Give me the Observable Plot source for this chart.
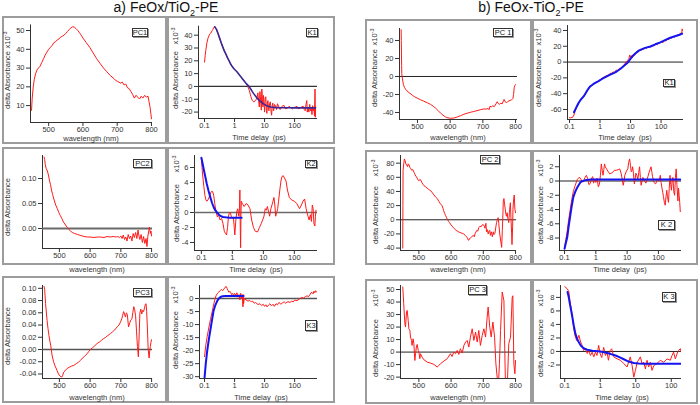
<!DOCTYPE html>
<html><head><meta charset="utf-8">
<script src="https://cdn.jsdelivr.net/npm/d3@7"></script>
<script src="https://cdn.jsdelivr.net/npm/@observablehq/plot@0.6"></script>
<style>
html,body{margin:0;padding:0;background:#fff;}
#fig{position:relative;width:700px;height:405px;overflow:hidden;font-family:"Liberation Sans",Arial,sans-serif;color:#222;}
.frame{position:absolute;box-sizing:border-box;border:2px solid #9c9c9c;pointer-events:none;}
.tag{position:absolute;box-sizing:border-box;border:1px solid #333;font-size:7.5px;line-height:1;display:flex;align-items:center;justify-content:center;background:#fff;box-shadow:1px 1px 0 #999;color:#222;}
.ylab{position:absolute;font-size:7.5px;white-space:nowrap;transform:translate(-50%,-50%) rotate(-90deg);color:#333;}
.ylab sup{font-size:5.5px;}
.xlab{position:absolute;font-size:7.5px;line-height:1;white-space:nowrap;transform:translate(-50%,-50%);color:#333;}
.title{position:absolute;font-size:14px;line-height:1.1;white-space:nowrap;transform:translate(-50%,0);color:#111;}
.title sub{font-size:9px;}
svg{position:absolute;}
</style></head><body><div id="fig"></div>
<script>
// ---------------- data (x, value) ----------------
// a) FeOx/TiO2-PE
const aPC1 = [[450,7.5],[452,14],[455,20],[458,24],[462,27],[466,29],[470,30],[475,31],[480,33],[485,35],[490,37],[495,38.5],[500,40],[505,41],[510,42],[515,43.5],[520,44],[525,45],[530,45.5],[535,46.5],[540,47],[545,47.5],[550,48.5],[555,49.5],[560,50.5],[565,51.5],[570,52],[575,51.8],[580,51],[585,50],[590,48.8],[595,47.5],[600,46],[610,43.5],[620,41],[630,38],[640,35],[650,32.5],[660,30],[670,28],[680,26],[690,24.5],[695,23.5],[700,23],[705,22.5],[710,22],[715,22.5],[720,21],[725,21.5],[730,19.5],[735,19],[740,17.5],[745,16],[750,14],[755,15.5],[760,14.5],[765,13.5],[770,15],[775,14],[780,15.5],[785,14.5],[790,15],[793,12],[796,9],[798,6],[800,3]];
const aK1 = [[0.1,19],[0.105,24],[0.11,28],[0.12,34],[0.13,37.5],[0.14,39.5],[0.15,41],[0.16,41.5],[0.17,42.5],[0.18,43.5],[0.19,44.5],[0.2,45.5],[0.21,46.5],[0.22,47],[0.23,46],[0.25,44.5],[0.28,41.5],[0.32,37.5],[0.36,34],[0.41,30.5],[0.46,27.5],[0.52,25],[0.58,22.5],[0.66,20],[0.74,17.5],[0.84,15.5],[0.94,14],[1.05,12.8],[1.2,11.5],[1.35,10],[1.5,8.5],[1.7,7],[1.9,5.5],[2.1,4.2],[2.4,2.5],[2.7,0.5],[3.1,-3],[3.5,-8],[3.9,-11],[4.4,-12],[5,-11],[5.6,-9],[6,-5],[6.4,-12],[6.7,-16],[7,-4],[7.3,-9],[7.8,-18.5],[8.1,-2],[8.5,-10],[8.8,-16],[9.2,-7],[9.6,-13],[10,-20],[10.5,-9],[11,-8],[11.5,-19],[12,-21],[12.5,-12],[13,-11],[13.5,-18],[14,-19],[14.8,-13],[15.6,-12],[16.5,-20],[17.2,-22.5],[18,-15],[18.8,-13],[20,-19],[21.5,-14],[23,-15],[25,-18],[27,-13.5],[30,-16],[33,-18],[36,-16.5],[40,-15],[45,-15],[50,-17.5],[58,-17],[65,-15.5],[74,-16.5],[85,-17.5],[94,-16.5],[110,-16],[120,-15.5],[135,-17.5],[150,-17],[170,-16],[195,-15.5],[210,-18],[225,-19],[240,-14],[255,-11],[265,-20],[280,-16],[300,-20],[320,-14],[340,-19],[360,-17],[380,-22],[400,-15],[420,-19],[440,-17],[460,-23],[470,-12],[480,-2],[490,-24],[500,-16]];
const aK1fit = [[0.22,46.5],[0.25,44.5],[0.28,41.5],[0.32,37.5],[0.36,34],[0.41,30.5],[0.46,27.5],[0.52,25],[0.58,22.5],[0.66,20],[0.74,17.5],[0.84,15.5],[0.94,14],[1.05,12.8],[1.2,11.5],[1.35,10],[1.5,8.5],[1.7,7],[1.9,5.5],[2.1,4.2],[2.4,2.5],[2.7,1.2],[3.1,-0.3],[3.5,-2.2],[3.9,-4],[4.4,-5.8],[5,-7.5],[5.6,-9],[6.3,-10.3],[7.1,-11.5],[8,-12.5],[9.5,-13.8],[11,-14.6],[13,-15.4],[16,-16],[20,-16.3],[27,-16.5],[40,-16.6],[60,-16.6],[100,-16.7],[200,-16.7],[500,-16.7]];
const aPC2 = [[450,0.143],[452,0.138],[454,0.128],[457,0.12],[461,0.115],[465,0.105],[468,0.095],[471,0.088],[475,0.075],[478,0.068],[480,0.063],[484,0.055],[488,0.047],[493,0.04],[498,0.032],[503,0.026],[508,0.02],[513,0.013],[518,0.009],[522,0.005],[526,0.002],[531,-0.002],[536,-0.005],[542,-0.008],[550,-0.01],[559,-0.012],[570,-0.014],[580,-0.016],[591,-0.017],[600,-0.017],[612,-0.018],[625,-0.017],[633,-0.017],[645,-0.018],[655,-0.016],[665,-0.017],[675,-0.016],[685,-0.017],[690,-0.016],[695,-0.018],[700,-0.015],[704,-0.02],[708,-0.013],[712,-0.022],[716,-0.017],[720,-0.025],[724,-0.012],[728,-0.02],[732,-0.015],[736,-0.025],[740,-0.01],[744,-0.018],[748,-0.008],[752,-0.02],[756,-0.003],[759,-0.015],[762,-0.022],[766,-0.012],[770,-0.028],[774,-0.016],[778,-0.03],[782,-0.02],[785,-0.036],[788,-0.015],[791,-0.004],[793,0.003],[796,-0.01],[798,-0.005],[800,-0.015]];
const aK2 = [[0.1,7.2],[0.105,6],[0.11,5],[0.12,3.5],[0.13,2.3],[0.14,1.7],[0.15,1.5],[0.17,1.8],[0.19,2.4],[0.21,2.8],[0.23,2.8],[0.25,2.3],[0.27,1.2],[0.3,0],[0.33,-0.6],[0.36,-0.3],[0.4,-1],[0.45,-0.8],[0.5,-1.5],[0.55,-2.5],[0.6,-2.8],[0.65,-3],[0.7,-2],[0.75,-0.5],[0.8,0],[0.86,0],[0.92,-0.5],[1,-0.8],[1.08,-0.6],[1.15,-2],[1.2,-3],[1.3,-1],[1.4,0.2],[1.5,0.5],[1.6,-0.5],[1.7,0.5],[1.75,3],[1.8,-2],[1.85,-4.7],[1.9,0],[1.95,1.5],[2.1,1.2],[2.4,0.8],[2.8,1.2],[3.2,1],[3.7,0.5],[4.2,-1],[4.8,-2],[5.5,-2.5],[6.5,-2.6],[7.5,-2],[8.5,-1.5],[9.5,-1],[10.5,-0.5],[11.5,0.5],[12.5,0.3],[13.5,0.8],[15,0],[16,-0.5],[17.5,0.5],[19,1],[20.5,1.5],[22,2],[23.5,1],[25,-0.5],[27,0],[29,0.5],[31,1.5],[34,3],[37,4.2],[40,4.8],[44,4.9],[48,4.6],[54,4.2],[60,3],[69,2],[80,1.7],[100,1.5],[120,1.2],[147,0.5],[170,1],[190,1.5],[215,1.8],[240,0.5],[277,-0.5],[300,-1],[330,-0.3],[357,-1.2],[380,1],[405,0.5],[430,-1.5],[460,-1.8],[480,-0.5],[500,0.3]];
const aK2fit = [[0.1,7.3],[0.11,6.5],[0.12,5.7],[0.135,4.7],[0.15,3.8],[0.17,2.9],[0.196,2],[0.22,1.3],[0.25,0.7],[0.28,0.3],[0.32,0],[0.37,-0.3],[0.43,-0.5],[0.5,-0.6],[0.6,-0.65],[0.8,-0.7],[1.2,-0.7],[2,-0.7]];
const aPC3 = [[450,0.103],[452,0.098],[455,0.075],[458,0.058],[460,0.047],[463,0.034],[466,0.023],[469,0.014],[472,0.006],[476,-0.009],[481,-0.02],[486,-0.027],[492,-0.034],[497,-0.04],[503,-0.044],[508,-0.045],[511,-0.042],[514,-0.037],[518,-0.035],[525,-0.031],[532,-0.029],[540,-0.027],[547,-0.026],[555,-0.023],[562,-0.021],[568,-0.018],[575,-0.014],[582,-0.011],[590,-0.007],[596,-0.003],[601,0],[608,0.003],[615,0.006],[623,0.01],[630,0.012],[637,0.015],[644,0.018],[651,0.02],[658,0.023],[666,0.026],[673,0.029],[680,0.032],[688,0.037],[694,0.04],[699,0.045],[703,0.05],[706,0.056],[709,0.062],[712,0.058],[715,0.053],[718,0.06],[721,0.057],[725,0.037],[728,0.042],[732,0.048],[736,0.05],[739,0.06],[742,0.07],[745,0.065],[748,0.055],[751,0.03],[754,0.005],[757,-0.012],[760,0.03],[762,0.06],[765,0.066],[768,0.058],[771,0.064],[774,0.062],[777,0.068],[780,0.074],[782,0.075],[784,0.062],[786,0.04],[789,0],[792,-0.014],[794,-0.002],[796,0.005],[798,0.012],[800,0.016]];
const aK3 = [[0.1,-22.3],[0.11,-18],[0.123,-14.5],[0.14,-11],[0.158,-8],[0.18,-5],[0.2,-2.5],[0.22,-0.5],[0.24,1],[0.27,2],[0.3,2.5],[0.33,3],[0.36,3.5],[0.4,3],[0.44,3.6],[0.48,4.3],[0.53,4.6],[0.57,3.8],[0.6,3.2],[0.65,2.4],[0.7,2.8],[0.75,2.2],[0.8,1.5],[0.86,2],[0.93,1.2],[1,2],[1.1,1.3],[1.2,2.2],[1.3,0.5],[1.4,1.5],[1.5,-0.5],[1.6,2],[1.7,0],[1.8,1.5],[1.9,-3.2],[1.95,1.5],[2,-2],[2.1,0],[2.4,-0.5],[2.8,-1],[3.2,-0.7],[3.6,-1.3],[4,-1],[4.5,-1.8],[5,-1.5],[6,-2.3],[7,-2],[8,-2.7],[9,-2.2],[10,-3],[11,-2.4],[12,-3.2],[13.5,-2.5],[15,-2],[17,-2.8],[19,-2.2],[21,-3],[24,-2],[27,-2.4],[30,-1.5],[35,-2.2],[40,-1.6],[45,-1.3],[50,-1.8],[60,-1.2],[70,-1.5],[80,-1],[90,-1.3],[100,-0.6],[120,-0.8],[140,-0.3],[170,0.4],[200,0.2],[230,0.8],[260,1],[290,0.7],[320,1.4],[350,2.2],[380,2.3],[410,1.8],[440,2.8],[470,2.2],[500,3],[530,2.5]];
const aK3fit = [[0.1,-30.5],[0.11,-25],[0.123,-20],[0.14,-15.5],[0.158,-11.8],[0.18,-7.8],[0.2,-4.7],[0.23,-2.5],[0.265,-0.9],[0.3,0],[0.34,0.6],[0.4,0.9],[0.5,1],[1,1],[2,1]];
// b) FeOx-TiO2-PE
const bPC1 = [[450,52],[450.5,40],[451,25],[451.5,12],[452,3],[453,0],[455,-5],[457,-9],[460,-12],[464,-14.5],[468,-16],[474,-18],[480,-19.5],[484,-20.7],[490,-22.3],[499,-24],[509,-25.8],[519,-27.4],[530,-29.2],[540,-31],[548,-33],[555,-35],[562,-37.5],[570,-40.5],[578,-43],[586,-45],[593,-46],[601,-46.4],[611,-46.2],[622,-45],[632,-43.5],[642,-42],[652,-40.8],[662,-39.8],[672,-38.9],[682,-38],[692,-37],[703,-36],[710,-36.3],[716,-35.5],[719,-37],[722,-33],[726,-34],[730,-32.5],[735,-33.5],[740,-30.5],[744,-28],[747,-30],[751,-31],[755,-29.5],[759,-30.5],[763,-27],[765,-25.5],[768,-28],[772,-29],[776,-28],[780,-27],[784,-26.5],[788,-26],[792,-24.5],[794,-20],[796,-12],[798,-10],[800,-9]];
const bK1 = [[0.1,-70.5],[0.11,-70.5],[0.12,-70],[0.13,-69.5],[0.14,-67],[0.15,-63],[0.17,-57],[0.19,-53],[0.21,-50],[0.24,-47],[0.27,-45],[0.3,-43],[0.34,-39],[0.38,-36.5],[0.42,-33.5],[0.47,-31],[0.53,-30],[0.6,-28],[0.67,-27],[0.75,-26],[0.85,-24.5],[0.95,-23],[1.07,-22],[1.2,-20],[1.35,-19],[1.5,-18],[1.7,-17],[1.9,-16.5],[2.1,-14.5],[2.4,-14],[2.7,-12.5],[3,-13],[3.4,-10],[3.8,-11],[4.3,-8],[4.8,-8.5],[5.4,-6],[6,-4],[6.7,-1.5],[7.3,1],[7.8,-2],[8.3,3],[8.8,4],[9.4,9],[10,6],[10.7,8],[11.5,5.5],[12.3,9],[13,8],[14,10],[15,11],[16,12.5],[17.5,12],[19,15.5],[20,14],[21.5,16],[23,15],[25,17.5],[27,16],[30,18.5],[33,17],[36,18.5],[40,19.5],[45,19],[50,21.5],[55,20.5],[60,21],[68,23.5],[75,22],[85,24],[95,25],[105,26],[115,24.5],[130,27.5],[145,26.5],[160,29],[180,28.5],[200,31],[220,30],[250,32.5],[280,31.5],[310,34],[340,33],[370,35.5],[400,34],[430,37],[460,35.5],[480,38],[490,42],[500,40]];
const bK1fit = [[0.14,-63.5],[0.16,-59],[0.18,-55],[0.2,-51.5],[0.23,-48],[0.26,-45.5],[0.29,-43.5],[0.33,-40],[0.38,-36],[0.43,-33],[0.47,-31],[0.55,-29],[0.65,-27],[0.8,-25],[0.9,-24],[1,-23],[1.2,-21],[1.5,-19],[2,-16.5],[2.8,-14],[3.5,-12],[4.7,-8.5],[6,-5],[7.8,-1.3],[9.5,3],[11.3,7],[14,10.5],[17,13.5],[21,15.5],[30,18],[45,19.7],[65,22.5],[95,25],[140,28],[200,30.8],[300,33],[430,35],[500,36]];
const bPC2 = [[450,-40],[450.5,20],[451,70],[453,79],[455,86],[457,84],[459,80],[462,77],[465,75],[467,79],[469,78],[472,74],[475,72],[478,70],[481,71],[485,67],[488,64],[491,61],[494,60],[496,57.5],[500,55],[503,57],[506,56],[510,52],[513,50],[516,48],[520,47],[525,45],[530,43],[537,41],[542,38],[547,35],[552,32],[557,30],[562,26],[567,22.5],[570,21],[572,19.8],[575,16],[577,12.8],[580,9],[583,6],[586,3],[588,1],[592,-2],[595,-4],[598,-6],[603,-9],[608,-11.5],[613,-14],[618,-15.6],[623,-17],[628,-18],[634,-19],[639,-20],[644,-22],[648,-24],[651,-26],[653,-28.5],[655,-29],[657,-27],[660,-25.5],[664,-24],[669,-22],[672,-24],[675,-19],[680,-15],[683,-16],[686,-11],[690,-9],[693,-10],[697,-7],[700,-7],[703,-9],[705,-12],[708,-5],[710,-17],[713,-14],[715,-20],[718,-16],[720,-15],[722,-22],[725,-17],[728,-24],[731,-17],[733,-21],[736,-19],[739,-10],[741,-4],[743,-1],[746,3],[748,-5],[751,-20],[754,-30],[757,-39],[759,-15],[761,10],[762,26],[764,30],[766,22],[768,15],[770,8],[772,5],[774,10],[776,2],[779,-4],[781,10],[783,20],[784,24],[786,0],[788,-20],[789,-35],[791,-10],[792,15],[794,28],[796,35],[797,25],[798,15],[800,10]];
const bK2 = [[0.1,-9.3],[0.11,-8.2],[0.122,-7],[0.135,-5.5],[0.152,-4],[0.17,-2.6],[0.19,-1.5],[0.22,-0.6],[0.255,0.2],[0.29,0.5],[0.32,0.4],[0.36,0],[0.4,-0.1],[0.45,0.5],[0.5,0.8],[0.55,0.3],[0.6,-0.5],[0.65,-0.4],[0.7,0],[0.75,0.5],[0.8,0.6],[0.85,-0.3],[0.9,0.2],[1,-0.2],[1.1,0.4],[1.2,-0.8],[1.3,-0.5],[1.4,0.8],[1.5,2.4],[1.6,1.5],[1.7,0.8],[1.8,1.6],[1.9,2.4],[2,2],[2.2,1.7],[2.5,1.3],[2.8,1],[3.2,1.1],[3.5,1.3],[4,1.5],[4.5,1.5],[5.2,1.6],[5.8,1.7],[6.5,1],[7,0.2],[7.5,-0.6],[8,0],[8.4,0.8],[9.5,1.4],[10.5,1.7],[11.2,2.6],[12,3.1],[12.8,2.2],[13.5,1.3],[14.3,1.5],[15,2],[16,1],[17,-0.4],[18,0.2],[19,1.1],[20.5,0.8],[22,0.2],[23.5,1.2],[25,2],[26.5,0.5],[28,-0.6],[30,0],[32,0.5],[36,0],[40,-0.3],[46,0.6],[52,1.4],[58,2],[62,1.2],[65,0.6],[72,-0.2],[82,-0.4],[92,0.2],[105,0],[115,0.8],[122,-0.2],[130,-1],[138,-1.6],[145,-2.2],[155,-3],[165,-3.4],[175,-2.2],[185,-1.3],[195,-2.2],[210,-3],[222,-1],[235,0.8],[248,-0.5],[260,-1.3],[275,0],[290,0.5],[310,-1.5],[330,-2],[350,0.5],[370,1.7],[390,-0.5],[420,-2.8],[440,-1],[460,-2],[480,-3],[500,-4.3]];
const bK2fit = [[0.1,-9.5],[0.11,-8.7],[0.122,-7.9],[0.135,-6.4],[0.152,-4.9],[0.17,-3.5],[0.19,-2.3],[0.22,-1.5],[0.255,-0.9],[0.29,-0.5],[0.32,-0.2],[0.36,-0.05],[0.41,0.05],[0.5,0.15],[0.7,0.2],[1,0.2],[10,0.2],[100,0.2],[500,0.2]];
const bPC3 = [[450,52],[453,38.6],[456.6,22.6],[458.6,20],[461.7,32],[463.8,33.3],[466.9,25.3],[469,18.6],[472,17.3],[474,12],[477,9.3],[479,5.3],[482,10.6],[484.5,6.7],[487.6,-6.7],[489.7,-1.3],[492.8,5.3],[494.8,6.1],[498,1.3],[500,0],[503,-5.3],[505,-1.3],[510,-4],[515.5,-6.1],[526,-8],[536,-8.8],[546.5,-9.8],[557,-12],[562,-10.6],[567,-9.3],[577.6,-7.2],[588,-5.3],[598,-1.3],[603,-3.5],[608.6,0],[614,-1.3],[619,1.3],[624,-1.9],[629,2.7],[634.5,-0.8],[639.7,5.3],[645,8],[650,9.3],[655,4],[660,12],[665.5,18.6],[670.7,9.3],[676,16],[681,8],[686,17.3],[691,5.3],[696.6,13.3],[701.7,18.6],[707,12],[712,28],[715,36],[720,20],[724.5,12],[729.7,24],[735,12],[739,-9.3],[743,-20],[746,-30],[750,-10],[753.5,17.3],[758.6,48],[764,41],[766,10],[769,-30],[774,-30],[779,6.7],[784.5,12],[789.7,44],[791.7,45],[794.8,-9.3],[798,-17.3],[800,-6.7]];
const bK3 = [[0.1,9.6],[0.116,9.3],[0.13,8.9],[0.14,7.5],[0.16,5.6],[0.18,3.3],[0.2,2.1],[0.22,1.6],[0.25,2.4],[0.28,1.4],[0.31,0.9],[0.34,0.15],[0.38,0.4],[0.43,-0.3],[0.47,0.15],[0.53,-0.6],[0.59,-0.1],[0.66,-0.8],[0.73,-0.1],[0.81,-0.6],[0.9,0.9],[1,-0.35],[1.1,-0.9],[1.25,0.6],[1.4,-0.6],[1.55,-0.1],[1.7,-1.3],[1.9,0.15],[2.1,0.4],[2.4,-0.8],[3,-1.1],[3.7,-1.3],[4.6,-1.8],[5.7,-2.3],[7,-0.8],[7.9,-2.1],[8.8,-3.8],[9.8,-2.8],[11,-1.6],[13.5,-0.8],[15,-1.8],[16.8,-1.6],[18.7,-2.6],[20.8,-1.3],[23,-2.3],[25.8,-1.6],[28.7,-2.8],[32,-2.1],[39.7,-1.8],[49,-1.3],[61,-1.6],[76,-1.1],[94,-1.3],[105,-0.6],[116,-0.1],[130,-1.1],[145,-0.35],[160,0.15],[180,0.4],[190,-0.1]];
const bK3fit = [[0.12,8.8],[0.13,8],[0.14,7],[0.15,6.2],[0.16,5.4],[0.18,3.8],[0.2,2.6],[0.23,1.7],[0.28,0.9],[0.35,0.45],[0.43,0.25],[0.6,0.1],[1,0],[1.4,-0.15],[1.9,-0.35],[2.7,-0.6],[3.7,-0.9],[4.6,-1.15],[5.7,-1.4],[7,-1.55],[8.8,-1.7],[12,-1.78],[17,-1.8],[30,-1.8],[60,-1.8],[100,-1.8],[180,-1.8]];

// tick values
const wlTicks = [500, 600, 700, 800];
const tTicks = [0.1, 1, 10, 100];
const titleA = "a) FeOx/TiO<sub>2</sub>-PE";
const titleB = "b) FeOx-TiO<sub>2</sub>-PE";
const xTitleWl = "wavelength (nm)";
const xTitleT = "Time delay&nbsp; (ps)";
const yTitle = "delta Absorbance";

// ---------------- layout ----------------
const RED = "#ff1a1a", BLUE = "#1414f0";
const intF = d => String(d), f2 = d => d.toFixed(2);
const panels = [
 {box:[3,17,166,143], area:[30,24.4,152,122], xt:"linear", xd:[447,803], xticks:wlTicks, yd:[1,53], yticks:[10,20,30,40,50], yf:intF,
  red:aPC1, zero:null, tag:["PC1",132,28,148,37], yl:[7,80,40], xl:[xTitleWl,91,138.5]},
 {box:[168,17,334,143], area:[198,25.7,317,118], xt:"log", xd:[0.063,580], xticks:tTicks, yd:[-25,47], yticks:[-20,-10,0,10,20,30,40], yf:intF,
  red:aK1, fit:aK1fit, fitColor:"#3b2696", fitW:1.6, zero:["#333",1.3], tag:["K1",306,28,318,37], yl:[175,80,36], xl:[xTitleT,259,137.5]},
 {box:[3,148,166,264], area:[42,155,152,248], xt:"linear", xd:[445,803], xticks:wlTicks, yd:[-0.04,0.146], yticks:[0,0.05,0.1], yf:f2,
  red:aPC2, zero:["#6a6a6a",1.8], tag:["PC2",133,159,152,168], yl:[7,207,null], xl:[xTitleWl,97,269.5]},
 {box:[168,148,334,264], area:[194,155,317,250], xt:"log", xd:[0.06,560], xticks:tTicks, yd:[-5.07,7.6], yticks:[-4,-2,0,2,4,6], yf:intF,
  red:aK2, fit:aK2fit, fitColor:BLUE, fitW:2, zero:["#6a6a6a",1.6], tag:["K2",305,160,317,168], yl:[176,213,164], xl:[xTitleT,256,269.5]},
 {box:[3,277,166,402], area:[42,285,152,378], xt:"linear", xd:[445,803], xticks:wlTicks, yd:[-0.0474,0.1046], yticks:[-0.04,-0.02,0,0.02,0.04,0.06,0.08,0.1], yf:f2,
  red:aPC3, zero:["#555",1.4], tag:["PC3",133,288,152,297], yl:[7,336,null], xl:[xTitleWl,97,398]},
 {box:[168,277,334,402], area:[199,285,317,378], xt:"log", xd:[0.068,577], xticks:tTicks, yd:[-30.7,5], yticks:[-30,-25,-20,-15,-10,-5,0], yf:intF,
  red:aK3, fit:aK3fit, fitColor:BLUE, fitW:2, zero:["#555",1.4], tag:["K3",305,320,317,331], yl:[175,340,295], xl:[xTitleT,261,398]},
 {box:[366,20,531,143], area:[399,28,517,119], xt:"linear", xd:[445,806], xticks:wlTicks, yd:[-47.8,53.3], yticks:[-40,-20,0,20,40], yf:intF,
  red:bPC1, zero:["#222",1], tag:["PC 1",493,28,513,37], yl:[374,78,37], xl:[xTitleWl,458,137.5]},
 {box:[533,20,697,143], area:[567,25,683,119], xt:"log", xd:[0.086,543], xticks:tTicks, yd:[-72.7,46.3], yticks:[-60,-40,-20,0,20,40], yf:intF,
  red:bK1, fit:bK1fit, fitColor:BLUE, fitW:2, zero:["#222",1], tag:["K1",663,79,675,87], yl:[538,78,37], xl:[xTitleT,625,137.5]},
 {box:[366,151,531,264], area:[400,155,516,250], xt:"linear", xd:[443,803], xticks:wlTicks, yd:[-43.4,90.8], yticks:[-40,-20,0,20,40,60,80], yf:intF,
  red:bPC2, zero:["#222",1], tag:["PC 2",480,155,500,164], yl:[375,215,168], xl:[xTitleWl,458,269.5]},
 {box:[533,151,697,264], area:[559,155,681,250], xt:"log", xd:[0.069,547], xticks:tTicks, yd:[-9.75,3.58], yticks:[-8,-6,-4,-2,0,2], yf:intF,
  red:bK2, fit:bK2fit, fitColor:BLUE, fitW:2, zero:["#222",1], tag:["K 2",658,220,675,230], yl:[540,215,168], xl:[xTitleT,620,269.5]},
 {box:[366,280,531,403], area:[400,285,516,378], xt:"linear", xd:[443,803], xticks:wlTicks, yd:[-21.1,53.2], yticks:[-20,-10,0,10,20,30,40,50], yf:intF,
  red:bPC3, zero:["#222",1], tag:["PC 3",468,285,487,295], yl:[375,348,298], xl:[xTitleWl,458,398]},
 {box:[533,280,697,403], area:[560,285,681,378], xt:"log", xd:[0.076,194], xticks:tTicks, yd:[-4.0,9.76], yticks:[-2,0,2,4,6,8], yf:intF,
  red:bK3, fit:bK3fit, fitColor:BLUE, fitW:2, zero:["#222",1], tag:["K 3",662,292,676,302], yl:[540,348,298], xl:[xTitleT,622,398]},
];

const fig = document.getElementById("fig");
function addDiv(cls, html, style) {
  const d = document.createElement("div");
  d.className = cls; d.innerHTML = html;
  Object.assign(d.style, style);
  fig.appendChild(d); return d;
}

for (const p of panels) {
  const [bl, bt, br, bb] = p.box, [al, at, ar, ab] = p.area;
  const marks = [
    Plot.ruleX([p.xd[0]], {stroke: "#333", strokeWidth: 1}),
    Plot.ruleY([p.yd[0]], {stroke: "#333", strokeWidth: 1}),
    Plot.axisX(p.xticks, {tickSize: 4, tickPadding: 0.5, tickFormat: intF, label: null, stroke: "#333"}),
    Plot.axisY(p.yticks, {tickSize: 4, tickPadding: 2, tickFormat: p.yf, label: null, stroke: "#333"}),
  ];
  if (p.zero) marks.push(Plot.ruleY([0], {stroke: p.zero[0], strokeWidth: p.zero[1]}));
  marks.push(Plot.line(p.red, {x: d => d[0], y: d => d[1], stroke: RED, strokeWidth: 1, clip: true}));
  if (p.fit) marks.push(Plot.line(p.fit, {x: d => d[0], y: d => d[1], stroke: p.fitColor, strokeWidth: p.fitW, clip: true}));
  const svg = Plot.plot({
    width: br - bl, height: bb - bt,
    marginLeft: al - bl, marginRight: br - ar, marginTop: at - bt, marginBottom: bb - ab,
    x: {type: p.xt, domain: p.xd},
    y: {type: "linear", domain: p.yd},
    style: {fontFamily: '"Liberation Sans", Arial, sans-serif', fontSize: "7.5px", color: "#333", background: "transparent", overflow: "visible"},
    marks
  });
  svg.style.left = bl + "px"; svg.style.top = bt + "px";
  fig.appendChild(svg);
}
for (const p of panels) {
  const [bl, bt, br, bb] = p.box;
  addDiv("frame", "", {left: (bl - 1) + "px", top: (bt - 1) + "px", width: (br - bl + 2) + "px", height: (bb - bt + 2) + "px"});
  const [tx, x1, y1, x2, y2] = p.tag;
  addDiv("tag", tx, {left: x1 + "px", top: y1 + "px", width: (x2 - x1) + "px", height: (y2 - y1) + "px"});
  addDiv("ylab", yTitle, {left: p.yl[0] + "px", top: p.yl[1] + "px"});
  if (p.yl[2] !== null) addDiv("ylab", "x10<sup>-3</sup>", {left: p.yl[0] + "px", top: p.yl[2] + "px"});
  addDiv("xlab", p.xl[0], {left: p.xl[1] + "px", top: p.xl[2] + "px"});
}
addDiv("title", titleA, {left: "166px", top: "0px"});
addDiv("title", titleB, {left: "531px", top: "0px"});
</script></body></html>
